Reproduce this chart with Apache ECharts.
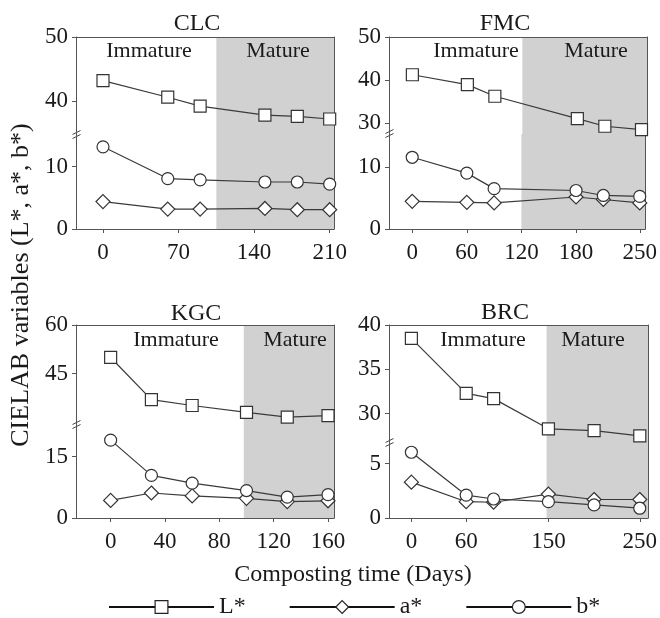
<!DOCTYPE html>
<html><head><meta charset="utf-8">
<script src="https://cdn.jsdelivr.net/npm/echarts@6/dist/echarts.min.js"></script>
<style>html,body{margin:0;padding:0;background:#fff}#c{width:660px;height:618px}</style>
</head><body><div id="c"></div>
<script>
// ---------------- DATA ----------------
const clcDays = [0, 60, 90, 150, 180, 210];
const clcL = [43.2, 40.6, 39.2, 37.8, 37.6, 37.2];
const clcA = [4.4, 3.2, 3.2, 3.3, 3.1, 3.1];
const clcB = [13.2, 8.1, 7.9, 7.55, 7.55, 7.2];

const fmcDays = [0, 60, 90, 180, 210, 250];
const fmcL = [41.2, 38.9, 36.2, 31.0, 29.2, 28.4];
const fmcA = [4.45, 4.3, 4.2, 5.15, 4.75, 4.2];
const fmcB = [11.55, 9.0, 6.5, 6.2, 5.4, 5.25];

const kgcDays = [0, 30, 60, 100, 130, 160];
const kgcL = [50.0, 37.0, 35.2, 33.1, 31.6, 32.1];
const kgcA = [4.3, 6.1, 5.4, 4.8, 4.0, 4.2];
const kgcB = [19.0, 10.4, 8.5, 6.7, 5.1, 5.7];

const brcDays = [0, 60, 90, 150, 200, 250];
const brcL = [38.5, 32.3, 31.7, 28.3, 28.1, 27.5];
const brcA = [3.3, 1.5, 1.45, 2.2, 1.7, 1.7];
const brcB = [6.05, 2.1, 1.75, 1.5, 1.2, 0.9];

// tick labels
const clcXTicks = [0, 70, 140, 210];
const fmcXTicks = [0, 60, 120, 180, 250];
const kgcXTicks = [0, 40, 80, 120, 160];
const brcXTicks = [0, 60, 150, 250];
const clcUpTicks = [40, 50], clcLowTicks = [0, 10];
const fmcUpTicks = [30, 40, 50], fmcLowTicks = [0, 10];
const kgcUpTicks = [45, 60], kgcLowTicks = [0, 15];
const brcUpTicks = [30, 35, 40], brcLowTicks = [0, 5];

// start of the mature phase (days)
const clcMature = 105, fmcMature = 120, kgcMature = 98, brcMature = 148;

const panelNames = ['CLC', 'FMC', 'KGC', 'BRC'];
const seriesNames = ['L*', 'a*', 'b*'];
const phaseNames = ['Immature', 'Mature'];
const xAxisName = 'Composting time (Days)';
const yAxisName = 'CIELAB variables (L*, a*, b*)';

// ---------------- AXIS RANGES / LAYOUT ----------------
const xRanges = [[-25, 214], [-25.5, 256], [-25.5, 164.4], [-24.5, 259]];
const upRanges = [[34.7, 50], [27.4, 50], [29.2, 60], [26.7, 40]];
const lowRanges = [[0, 15.1], [0, 15.3], [0, 22.7], [0, 6.9]];
const layouts = [
  {left: 76, right: 334, top: 37, brk: 135, bottom: 229},
  {left: 389, right: 647, top: 37, brk: 134, bottom: 229},
  {left: 76, right: 334, top: 325, brk: 425, bottom: 518},
  {left: 389, right: 648, top: 325, brk: 443, bottom: 518}
];
const titlePos = [[197, 23.5], [505, 23.5], [196, 313.5], [505, 313]];
const phasePos = [
  [[149, 51], [278, 51]],
  [[476, 51], [596, 51]],
  [[176, 340], [295, 340]],
  [[483, 340], [593, 340]]
];

const panels = [
  {days: clcDays, L: clcL, A: clcA, B: clcB, xt: clcXTicks, ut: clcUpTicks, lt: clcLowTicks, mature: clcMature},
  {days: fmcDays, L: fmcL, A: fmcA, B: fmcB, xt: fmcXTicks, ut: fmcUpTicks, lt: fmcLowTicks, mature: fmcMature},
  {days: kgcDays, L: kgcL, A: kgcA, B: kgcB, xt: kgcXTicks, ut: kgcUpTicks, lt: kgcLowTicks, mature: kgcMature},
  {days: brcDays, L: brcL, A: brcA, B: brcB, xt: brcXTicks, ut: brcUpTicks, lt: brcLowTicks, mature: brcMature}
];

// ---------------- STYLE ----------------
const FONT = "'Liberation Serif', 'Times New Roman', serif";
const TXT = '#1a1a1a';
const AXC = '#555';
const SHADE = '#d1d1d1';
const axisLS = {color: AXC, width: 1};
const lineLS = {color: '#3a3a3a', width: 1.2};
const symItem = {color: '#fff', borderColor: '#333', borderWidth: 1.2};

const grids = [], xAxes = [], yAxes = [], series = [], graphics = [];

function yAxisPair(gi, range, ticks) {
  const left = {
    type: 'value', gridIndex: gi, position: 'left', min: range[0], max: range[1], z: 2,
    axisLine: {show: true, onZero: false, lineStyle: axisLS},
    axisTick: {show: true, length: 4, customValues: ticks, lineStyle: axisLS},
    axisLabel: {show: true, customValues: ticks, margin: 8, fontFamily: FONT, fontSize: 23, color: TXT},
    splitLine: {show: false}
  };
  const right = {
    type: 'value', gridIndex: gi, position: 'right', min: range[0], max: range[1], z: 2,
    axisLine: {show: true, onZero: false, lineStyle: axisLS},
    axisTick: {show: false}, axisLabel: {show: false}, splitLine: {show: false}
  };
  const li = yAxes.length;
  yAxes.push(left, right);
  return li;
}

panels.forEach((p, i) => {
  const g = layouts[i];
  const gu = grids.length;
  const w = g.right - g.left;
  grids.push({left: g.left, top: g.top, width: w, height: g.brk - g.top, show: false});
  grids.push({left: g.left, top: g.brk, width: w, height: g.bottom - g.brk, show: false});

  const xu = xAxes.length;
  xAxes.push({
    type: 'value', gridIndex: gu, position: 'top', min: xRanges[i][0], max: xRanges[i][1], z: 2,
    axisLine: {show: true, onZero: false, lineStyle: axisLS},
    axisTick: {show: false}, axisLabel: {show: false}, splitLine: {show: false}
  });
  xAxes.push({
    type: 'value', gridIndex: gu + 1, position: 'bottom', min: xRanges[i][0], max: xRanges[i][1], z: 2,
    axisLine: {show: true, onZero: false, lineStyle: axisLS},
    axisTick: {show: true, length: 4, customValues: p.xt, lineStyle: axisLS},
    axisLabel: {show: true, customValues: p.xt, margin: 12, fontFamily: FONT, fontSize: 23, color: TXT},
    splitLine: {show: false}
  });
  const yu = yAxisPair(gu, upRanges[i], p.ut);
  const yl = yAxisPair(gu + 1, lowRanges[i], p.lt);

  const shade = (xMax) => ({
    silent: true, itemStyle: {color: SHADE},
    data: [[{xAxis: p.mature}, {xAxis: xMax}]]
  });
  const mk = (name, vals, sym, size, xi, yi, withShade) => {
    const s = {
      name, type: 'line', xAxisIndex: xi, yAxisIndex: yi, z: 3,
      data: p.days.map((d, k) => [d, vals[k]]),
      symbol: sym, symbolSize: size, showSymbol: true, clip: false,
      lineStyle: lineLS, itemStyle: symItem, emphasis: {disabled: true}, animation: false
    };
    if (withShade) s.markArea = shade(xRanges[i][1]);
    return s;
  };
  series.push(mk('L*', p.L, 'rect', 12, xu, yu, true));
  series.push(mk('a*', p.A, 'diamond', 14, xu + 1, yl, true));
  series.push(mk('b*', p.B, 'circle', 12, xu + 1, yl, false));

  // panel title
  graphics.push({type: 'text', x: titlePos[i][0], y: titlePos[i][1], z: 10,
    style: {text: panelNames[i], font: '24px ' + FONT, fill: TXT, align: 'center', verticalAlign: 'middle', textAlign: 'center', textVerticalAlign: 'middle'}});
  phaseNames.forEach((t, k) => {
    graphics.push({type: 'text', x: phasePos[i][k][0], y: phasePos[i][k][1], z: 10,
      style: {text: t, font: '22px ' + FONT, fill: TXT, align: 'center', verticalAlign: 'middle', textAlign: 'center', textVerticalAlign: 'middle'}});
  });
  // axis break mark on the left axis
  graphics.push({type: 'group', x: g.left + 0.5, y: g.brk, z: 10, children: [
    {type: 'rect', shape: {x: -2, y: -2.5, width: 4, height: 4}, style: {fill: '#fff'}},
    {type: 'line', shape: {x1: -4, y1: -0.5, x2: 4, y2: -4.5}, style: {stroke: '#444', lineWidth: 1}},
    {type: 'line', shape: {x1: -4, y1: 3.5, x2: 4, y2: -0.5}, style: {stroke: '#444', lineWidth: 1}}
  ]});
});

graphics.push({type: 'text', x: 21, y: 285, rotation: Math.PI / 2, z: 10,
  style: {text: yAxisName, font: '26px ' + FONT, fill: TXT, align: 'center', verticalAlign: 'middle', textAlign: 'center', textVerticalAlign: 'middle'}});
graphics.push({type: 'text', x: 353, y: 575, z: 10,
  style: {text: xAxisName, font: '24px ' + FONT, fill: TXT, align: 'center', verticalAlign: 'middle', textAlign: 'center', textVerticalAlign: 'middle'}});

const chart = echarts.init(document.getElementById('c'), null, {renderer: 'canvas'});
chart.setOption({
  animation: false,
  backgroundColor: '#fff',
  grid: grids, xAxis: xAxes, yAxis: yAxes, series: series,
  legend: {
    data: seriesNames, left: 108, top: 595, itemWidth: 105, itemHeight: 16, itemGap: 43,
    selectedMode: false, padding: 0,
    textStyle: {fontFamily: FONT, fontSize: 24, color: TXT},
    lineStyle: {color: '#111', width: 2},
    itemStyle: {color: '#fff', borderColor: '#222', borderWidth: 1.2}
  },
  graphic: graphics
});
</script></body></html>
